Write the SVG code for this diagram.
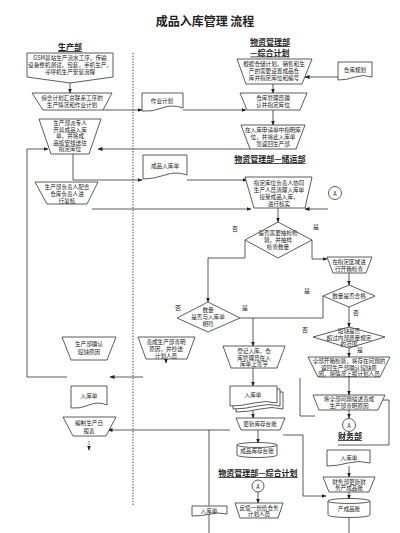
<svg xmlns="http://www.w3.org/2000/svg" width="400" height="533" viewBox="0 0 400 533">
<style>
.n{fill:#fff;stroke:#333;stroke-width:0.8}
.t{font-family:"Noto Sans CJK SC","Liberation Sans",sans-serif;font-size:5.6px;fill:#222;text-anchor:middle}
.h{font-family:"Noto Sans CJK SC","Liberation Sans",sans-serif;font-size:8px;font-weight:bold;fill:#222;text-anchor:middle;text-decoration:underline}
.c{fill:none;stroke:#333;stroke-width:0.8}
.lb{font-family:"Noto Sans CJK SC",sans-serif;font-size:6px;fill:#222;text-anchor:middle}
</style>
<defs>
<marker id="a" markerWidth="5" markerHeight="5" refX="4.5" refY="2.5" orient="auto" markerUnits="userSpaceOnUse">
<path d="M0,0.5 L5,2.5 L0,4.5 Z" fill="#222"/>
</marker>
</defs>
<rect width="400" height="533" fill="#fff"/>
<text x="205" y="26" font-family="Noto Sans CJK SC,sans-serif" font-size="12" font-weight="bold" text-anchor="middle" fill="#222">成品入库管理 流程</text>
<line x1="133" y1="53" x2="133" y2="506" stroke="#333" stroke-width="1" stroke-dasharray="1.2 1.6"/>
<text class="h" x="70" y="50">生产部</text>
<text class="h" x="270" y="45">物资管理部</text>
<text class="h" x="270" y="55.5">—综合计划</text>
<text class="h" x="270" y="162">物资管理部—储运部</text>
<text class="h" x="258" y="476">物资管理部—综合计划</text>
<text class="h" x="350" y="439">财务部</text>

<g id="connectors">
<path class="c" d="M70,83 V93" marker-end="url(#a)"/>
<path class="c" d="M103,110 H142" marker-end="url(#a)"/>
<path class="c" d="M183,110 H246" marker-end="url(#a)"/>
<path class="c" d="M338,77 H305" marker-end="url(#a)"/>
<path class="c" d="M273,84 V93" marker-end="url(#a)"/>
<path class="c" d="M273,110 V125" marker-end="url(#a)"/>
<path class="c" d="M250,149 H98" marker-end="url(#a)"/>
<path class="c" d="M67,377 H27 V149 H48" marker-end="url(#a)"/>
<path class="c" d="M73,154 V180 H142" marker-end="url(#a)"/>
<path class="c" d="M187,180 H247" marker-end="url(#a)"/>
<path class="c" d="M92,209 H251" marker-end="url(#a)"/>
<path class="c" d="M328,209 H305" marker-end="url(#a)"/>
<path class="c" d="M278,208 V222" marker-end="url(#a)"/>
<path class="c" d="M245,240 V258 H208 V302" marker-end="url(#a)"/>
<path class="c" d="M312,240 V259 H327" marker-end="url(#a)"/>
<path class="c" d="M349,273 V285" marker-end="url(#a)"/>
<path class="c" d="M349,307 V327" marker-end="url(#a)"/>
<path class="c" d="M349,348 V357" marker-end="url(#a)"/>
<path class="c" d="M240,318 H323 V296"/>
<path class="c" d="M253,318 V346" marker-end="url(#a)"/>
<path class="c" d="M166,340 V363" marker-end="url(#a)"/>
<path class="c" d="M143,377 H110" marker-end="url(#a)"/>
<path class="c" d="M253,357 V386" marker-end="url(#a)"/>
<path class="c" d="M253,410 V418" marker-end="url(#a)"/>
<path class="c" d="M258,430 V443" marker-end="url(#a)"/>
<path class="c" d="M258,492 V503" marker-end="url(#a)"/>
<path class="c" d="M230,430 H108" marker-end="url(#a)"/>
<path class="c" d="M209,430 V533"/>
<path class="c" d="M283,435 H303 V496 H326" marker-end="url(#a)"/>
<path class="c" d="M300,378 V416 H315"/>
<path class="c" d="M349,377 V395" marker-end="url(#a)"/>
<path class="c" d="M349,410 V418" marker-end="url(#a)"/>
<path class="c" d="M383,400 H389 V445 H338"/>
<path class="c" d="M349,466 V477" marker-end="url(#a)"/>
<path class="c" d="M349,492 V499" marker-end="url(#a)"/>
<path class="c" d="M349,517 V533"/>
<path class="c" d="M89,441 V450" stroke-dasharray="1.5 1" marker-end="url(#a)"/>
</g>

<text class="lb" x="235" y="231">否</text>
<text class="lb" x="316" y="229">是</text>
<text class="lb" x="307" y="293">是</text>
<text class="lb" x="356" y="315">否</text>
<text class="lb" x="305" y="332">否</text>
<text class="lb" x="360" y="352">是</text>
<text class="lb" x="178" y="310">否</text>
<text class="lb" x="245" y="310">是</text>

<g id="n1"><path class="n" d="M27,53 H113 V77 L70,83 L27,77 Z"/>
<text class="t" x="70" y="60">GSM基站生产流水工序，传输</text>
<text class="t" x="70" y="67">设备整机测试，包装，手机生产，</text>
<text class="t" x="70" y="74">寻呼机生产安装流程</text></g>

<g id="n2"><path class="n" d="M32,93 H112 L103,110 H43 Z"/>
<text class="t" x="72" y="100">综合计划汇总联系工序的</text>
<text class="t" x="72" y="107">生产情况和作业计划</text></g>

<g id="n3"><path class="n" d="M142,93 H183 V108 Q172,104 162,108 T142,111 Z"/>
<text class="t" x="162" y="103">作业计划</text></g>

<g id="n4"><path class="n" d="M237,59 H312 L302,84 H246 Z"/>
<text class="t" x="274" y="66">根据仓储计划，销售和生</text>
<text class="t" x="274" y="73">产的需要设置成品仓</text>
<text class="t" x="274" y="80">库并指定库位和编号</text></g>

<g id="n5"><path class="n" d="M338,62 H372 V77 Q363,74 355,77 T338,80 Z"/>
<text class="t" x="355" y="72">仓库规划</text></g>

<g id="n6"><path class="n" d="M240,93 H307 L300,110 H247 Z"/>
<text class="t" x="273" y="100">仓库管理员确</text>
<text class="t" x="273" y="107">认并指定库位</text></g>

<g id="n7"><path class="n" d="M241,125 H305 L296,149 H250 Z"/>
<text class="t" x="273" y="132">在入库申请单中指明库</text>
<text class="t" x="273" y="139">位，并将此入库单</text>
<text class="t" x="273" y="146">签返回生产部</text></g>

<g id="n8"><path class="n" d="M39,119 H101 L89,154 H51 Z"/>
<text class="t" x="70" y="125">生产部派专人</text>
<text class="t" x="70" y="131.5">开具成品入库</text>
<text class="t" x="70" y="138">单，并将成</text>
<text class="t" x="70" y="144.5">品按安排送往</text>
<text class="t" x="70" y="151">指定库位</text></g>

<g id="n9"><path class="n" d="M143,155 H187 V175 Q176,171 165,175 T143,179 Z"/>
<text class="t" x="165" y="168">成品入库单</text></g>

<g id="n10"><path class="n" d="M245,177 H312 L305,208 H254 Z"/>
<text class="t" x="279" y="185">指定库位负责人协同</text>
<text class="t" x="279" y="192">生产人员清理入库单</text>
<text class="t" x="279" y="199">接受成品入库，</text>
<text class="t" x="279" y="206">进行核实</text></g>

<g id="n11"><path class="n" d="M35,182 H98 L87,204 H47 Z"/>
<text class="t" x="67" y="189">生产部负责人配合</text>
<text class="t" x="67" y="196">仓库负责人进</text>
<text class="t" x="67" y="202.5">行复核</text></g>

<g id="n12"><circle class="n" cx="335" cy="193" r="6.5"/>
<text class="t" x="335" y="195.5" font-size="7">A</text></g>

<g id="n13"><path class="n" d="M245,240 L278,222 L312,240 L278,258 Z"/>
<text class="t" x="278" y="235">是否需要抽检检</text>
<text class="t" x="278" y="242">验，并抽样</text>
<text class="t" x="278" y="249">检查数量</text></g>

<g id="n14"><path class="n" d="M327,257 H372 L366,273 H333 Z"/>
<text class="t" x="349" y="264">在指定区域进</text>
<text class="t" x="349" y="271">行开箱检查</text></g>

<g id="n15"><path class="n" d="M323,296 L349,285 L375,296 L349,307 Z"/>
<text class="t" x="349" y="298">数量是否合格</text></g>

<g id="n16"><path class="n" d="M313,337 L349,327 L385,337 L349,348 Z"/>
<text class="t" x="349" y="333">短缺是否</text>
<text class="t" x="349" y="339.5">超过内部质量规定</text>
<text class="t" x="349" y="346">的范围</text></g>

<g id="n17"><path class="n" d="M308,357 H390 L380,377 H318 Z"/>
<text class="t" x="349" y="363">全部开箱检验，将存在问题的</text>
<text class="t" x="349" y="369.5">返回生产部确认短缺原</text>
<text class="t" x="349" y="376">因，将情况上报计划人员</text></g>

<g id="n18"><path class="n" d="M177,318 L208,302 L240,318 L208,332 Z"/>
<text class="t" x="208" y="312">数量</text>
<text class="t" x="208" y="319">是否与入库单</text>
<text class="t" x="208" y="326">相符</text></g>

<g id="n19"><path class="n" d="M138,337 H195 L187,359 H146 Z"/>
<text class="t" x="166" y="344">责成生产部查明</text>
<text class="t" x="166" y="351">原因，并抄送</text>
<text class="t" x="166" y="357.5">计划人员</text></g>

<g id="n20"><path class="n" d="M223,346 H285 L277,368 H231 Z"/>
<text class="t" x="254" y="353">登记入库，仓</text>
<text class="t" x="254" y="359.5">库管理员在入</text>
<text class="t" x="254" y="366">库单上签字</text></g>

<g id="n21"><path class="n" d="M62,337 H116 L107,360 H71 Z"/>
<text class="t" x="89" y="346">生产部确认</text>
<text class="t" x="89" y="354">短缺原因</text></g>

<g id="n22"><path class="n" d="M71,386 H107 V405 Q98,401 89,405 T71,408 Z"/>
<text class="t" x="89" y="398">入库单</text></g>

<g id="n23"><path class="n" d="M63,417 H116 L106,436 H73 Z"/>
<text class="t" x="89" y="425">编制生产日</text>
<text class="t" x="89" y="433">报表</text></g>

<g id="n24">
<path class="n" d="M236,392 H283 V409 Q272,406 260,409 T236,412 Z"/>
<path class="n" d="M233,389 H280 V406 Q269,403 257,406 T233,409 Z"/>
<path class="n" d="M230,386 H277 V403 Q266,400 254,403 T230,406 Z"/>
<text class="t" x="253" y="397">入库单</text></g>

<g id="n25"><path class="n" d="M236,418 H285 L280,430 H241 Z"/>
<text class="t" x="260" y="426">更新库存台账</text></g>

<g id="n26"><path class="n" d="M237,445 A20,2.5 0 0 1 277,445 V455 A20,2.5 0 0 1 237,455 Z"/>
<path class="c" d="M237,445 A20,2.5 0 0 0 277,445"/>
<text class="t" x="257" y="453">成品库存台账</text></g>

<g id="n27"><circle class="n" cx="258" cy="486" r="6"/>
<text class="t" x="258" y="488.5" font-size="7">A</text></g>

<g id="n28"><path class="n" d="M235,503 H283 L278,518 H240 Z"/>
<text class="t" x="259" y="509.5">反馈一份给仓务</text>
<text class="t" x="259" y="516">计划人员</text></g>

<g id="n29"><path class="n" d="M192,506 H227 V514 Q218,512 210,514 T192,516 Z"/>
<text class="t" x="209" y="512.5">入库单</text></g>

<g id="n30"><path class="n" d="M313,395 H385 L378,410 H319 Z"/>
<text class="t" x="349" y="401">将全部问题描述责成</text>
<text class="t" x="349" y="408">生产部查明原因</text></g>

<g id="n31"><circle class="n" cx="349" cy="425" r="6.5"/>
<text class="t" x="349" y="427.5" font-size="7">A</text></g>

<g id="n32"><path class="n" d="M327,450 H370 V463 Q359,460 348,463 T327,466 Z"/>
<text class="t" x="349" y="460">入库单</text></g>

<g id="n33"><path class="n" d="M323,477 H375 L369,492 H329 Z"/>
<text class="t" x="349" y="483.5">财务部更新财</text>
<text class="t" x="349" y="490">务产成品账</text></g>

<g id="n34"><path class="n" d="M328,501 A21,2.5 0 0 1 370,501 V515 A21,2.5 0 0 1 328,515 Z"/>
<path class="c" d="M328,501 A21,2.5 0 0 0 370,501"/>
<text class="t" x="349" y="511">产成品账</text></g>
</svg>
